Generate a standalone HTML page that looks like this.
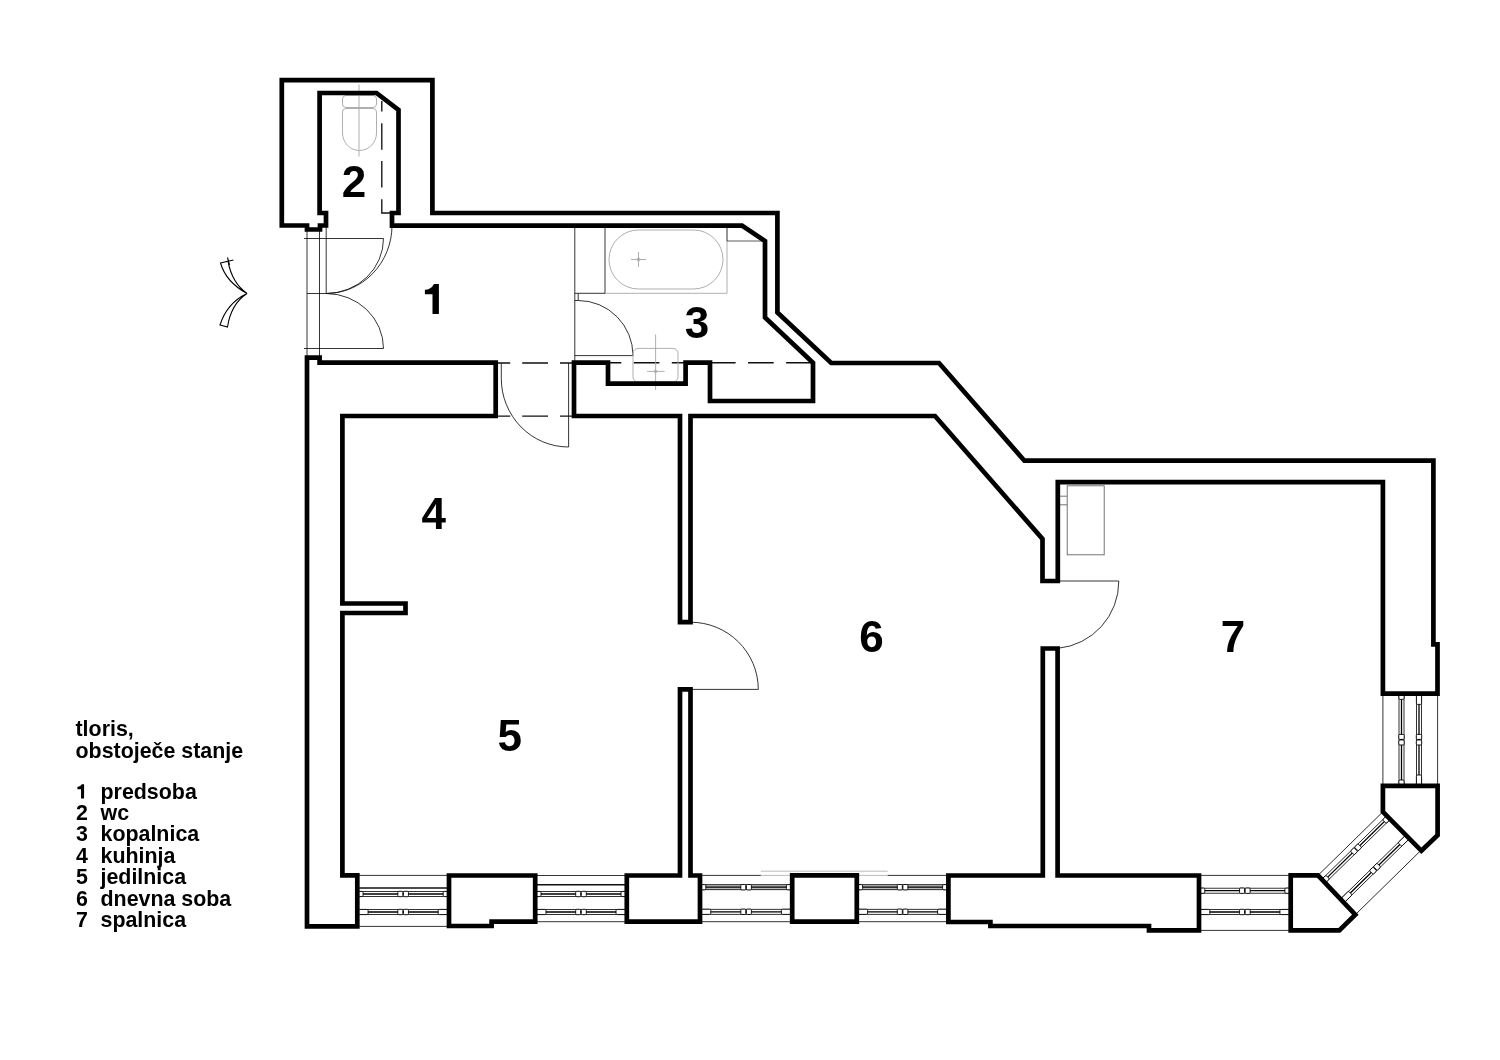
<!DOCTYPE html>
<html><head><meta charset="utf-8">
<style>
html,body{margin:0;padding:0;background:#fff;}
svg{display:block;will-change:transform;}
.w{fill:none;stroke:#000;stroke-width:4.7;stroke-linejoin:miter;stroke-miterlimit:4;}
.tn{fill:none;stroke:#111;stroke-width:0.85;}
.tk{fill:none;stroke:#111;stroke-width:1.35;}
.fx{fill:none;stroke:#a6a6a6;stroke-width:0.9;}
.blk{fill:#fff;stroke:#000;stroke-width:0.9;}
.lab{font-family:"Liberation Sans",sans-serif;font-weight:bold;font-size:44px;text-anchor:middle;fill:#000;}
.leg{font-family:"Liberation Sans",sans-serif;font-weight:bold;font-size:21.4px;fill:#000;}
</style></head>
<body>
<svg width="1500" height="1060" viewBox="0 0 1500 1060">
<rect width="1500" height="1060" fill="#fff"/>
<g transform="translate(357.30,875.40) matrix(1.00000,0.00000,-0.00000,1.00000,0,0)">
<line x1="0" y1="0" x2="91.70" y2="0" class="tn"/>
<line x1="0" y1="51.00" x2="91.70" y2="51.00" class="tn"/>
<line x1="0" y1="12.60" x2="91.70" y2="12.60" class="tk"/>
<rect x="0" y="16.10" width="91.70" height="5" fill="#fff" stroke="#000" stroke-width="0.8"/>
<line x1="0" y1="18.60" x2="91.70" y2="18.60" stroke="#000" stroke-width="1.3"/>
<rect x="0.3" y="16.00" width="5.50" height="5.2" rx="1.2" class="blk"/>
<rect x="85.90" y="16.00" width="5.50" height="5.2" rx="1.2" class="blk"/>
<rect x="40.55" y="15.90" width="5" height="5.4" rx="1" class="blk"/>
<rect x="46.15" y="15.90" width="5" height="5.4" rx="1" class="blk"/>
<rect x="0" y="34.10" width="91.70" height="5" fill="#fff" stroke="#000" stroke-width="0.8"/>
<line x1="0" y1="36.60" x2="91.70" y2="36.60" stroke="#000" stroke-width="1.3"/>
<rect x="0.3" y="34.00" width="10.50" height="5.2" rx="1.2" class="blk"/>
<rect x="80.90" y="34.00" width="10.50" height="5.2" rx="1.2" class="blk"/>
<rect x="40.55" y="33.90" width="5" height="5.4" rx="1" class="blk"/>
<rect x="46.15" y="33.90" width="5" height="5.4" rx="1" class="blk"/>
</g><g transform="translate(535.20,875.50) matrix(1.00000,0.00000,-0.00000,1.00000,0,0)">
<line x1="0" y1="0" x2="91.60" y2="0" class="tn"/>
<line x1="0" y1="46.20" x2="91.60" y2="46.20" class="tn"/>
<line x1="0" y1="9.20" x2="91.60" y2="9.20" class="tk"/>
<rect x="0" y="16.00" width="91.60" height="5" fill="#fff" stroke="#000" stroke-width="0.8"/>
<line x1="0" y1="18.50" x2="91.60" y2="18.50" stroke="#000" stroke-width="1.3"/>
<rect x="0.3" y="15.90" width="5.50" height="5.2" rx="1.2" class="blk"/>
<rect x="85.80" y="15.90" width="5.50" height="5.2" rx="1.2" class="blk"/>
<rect x="40.50" y="15.80" width="5" height="5.4" rx="1" class="blk"/>
<rect x="46.10" y="15.80" width="5" height="5.4" rx="1" class="blk"/>
<rect x="0" y="34.00" width="91.60" height="5" fill="#fff" stroke="#000" stroke-width="0.8"/>
<line x1="0" y1="36.50" x2="91.60" y2="36.50" stroke="#000" stroke-width="1.3"/>
<rect x="0.3" y="33.90" width="10.50" height="5.2" rx="1.2" class="blk"/>
<rect x="80.80" y="33.90" width="10.50" height="5.2" rx="1.2" class="blk"/>
<rect x="40.50" y="33.80" width="5" height="5.4" rx="1" class="blk"/>
<rect x="46.10" y="33.80" width="5" height="5.4" rx="1" class="blk"/>
</g><g transform="translate(700.00,875.40) matrix(1.00000,0.00000,-0.00000,1.00000,0,0)">
<line x1="0" y1="46.30" x2="92.20" y2="46.30" class="tn"/>
<rect x="0" y="9.30" width="92.20" height="5" fill="#b8b8b8" stroke="#000" stroke-width="0.8"/>
<line x1="0" y1="11.80" x2="92.20" y2="11.80" stroke="#000" stroke-width="1.3"/>
<rect x="0.3" y="9.20" width="5.50" height="5.2" rx="1.2" class="blk"/>
<rect x="86.40" y="9.20" width="5.50" height="5.2" rx="1.2" class="blk"/>
<rect x="40.80" y="9.10" width="5" height="5.4" rx="1" class="blk"/>
<rect x="46.40" y="9.10" width="5" height="5.4" rx="1" class="blk"/>
<rect x="0" y="33.90" width="92.20" height="5" fill="#fff" stroke="#000" stroke-width="0.8"/>
<line x1="0" y1="36.40" x2="92.20" y2="36.40" stroke="#000" stroke-width="1.3"/>
<rect x="0.3" y="33.80" width="10.50" height="5.2" rx="1.2" class="blk"/>
<rect x="81.40" y="33.80" width="10.50" height="5.2" rx="1.2" class="blk"/>
<rect x="40.80" y="33.70" width="5" height="5.4" rx="1" class="blk"/>
<rect x="46.40" y="33.70" width="5" height="5.4" rx="1" class="blk"/>
</g><g transform="translate(856.80,875.40) matrix(1.00000,0.00000,-0.00000,1.00000,0,0)">
<line x1="0" y1="46.30" x2="91.60" y2="46.30" class="tn"/>
<rect x="0" y="9.30" width="91.60" height="5" fill="#b8b8b8" stroke="#000" stroke-width="0.8"/>
<line x1="0" y1="11.80" x2="91.60" y2="11.80" stroke="#000" stroke-width="1.3"/>
<rect x="0.3" y="9.20" width="5.50" height="5.2" rx="1.2" class="blk"/>
<rect x="85.80" y="9.20" width="5.50" height="5.2" rx="1.2" class="blk"/>
<rect x="40.50" y="9.10" width="5" height="5.4" rx="1" class="blk"/>
<rect x="46.10" y="9.10" width="5" height="5.4" rx="1" class="blk"/>
<rect x="0" y="33.90" width="91.60" height="5" fill="#fff" stroke="#000" stroke-width="0.8"/>
<line x1="0" y1="36.40" x2="91.60" y2="36.40" stroke="#000" stroke-width="1.3"/>
<rect x="0.3" y="33.80" width="10.50" height="5.2" rx="1.2" class="blk"/>
<rect x="80.80" y="33.80" width="10.50" height="5.2" rx="1.2" class="blk"/>
<rect x="40.50" y="33.70" width="5" height="5.4" rx="1" class="blk"/>
<rect x="46.10" y="33.70" width="5" height="5.4" rx="1" class="blk"/>
</g><g transform="translate(1199.00,875.40) matrix(1.00000,0.00000,-0.00000,1.00000,0,0)">
<line x1="0" y1="0" x2="91.70" y2="0" class="tn"/>
<line x1="0" y1="55.00" x2="91.70" y2="55.00" class="tn"/>
<rect x="0" y="12.80" width="91.70" height="5" fill="#fff" stroke="#000" stroke-width="0.8"/>
<line x1="0" y1="15.30" x2="91.70" y2="15.30" stroke="#000" stroke-width="1.3"/>
<rect x="0.3" y="12.70" width="5.50" height="5.2" rx="1.2" class="blk"/>
<rect x="85.90" y="12.70" width="5.50" height="5.2" rx="1.2" class="blk"/>
<rect x="40.55" y="12.60" width="5" height="5.4" rx="1" class="blk"/>
<rect x="46.15" y="12.60" width="5" height="5.4" rx="1" class="blk"/>
<rect x="0" y="34.10" width="91.70" height="5" fill="#fff" stroke="#000" stroke-width="0.8"/>
<line x1="0" y1="36.60" x2="91.70" y2="36.60" stroke="#000" stroke-width="1.3"/>
<rect x="0.3" y="34.00" width="10.50" height="5.2" rx="1.2" class="blk"/>
<rect x="80.90" y="34.00" width="10.50" height="5.2" rx="1.2" class="blk"/>
<rect x="40.55" y="33.90" width="5" height="5.4" rx="1" class="blk"/>
<rect x="46.15" y="33.90" width="5" height="5.4" rx="1" class="blk"/>
</g><g transform="translate(1382.90,693.60) matrix(0.00000,1.00000,1.00000,-0.00000,0,0)">
<line x1="0" y1="0" x2="92.20" y2="0" class="tn"/>
<line x1="0" y1="54.70" x2="92.20" y2="54.70" class="tn"/>
<rect x="0" y="16.10" width="92.20" height="5" fill="#fff" stroke="#000" stroke-width="0.8"/>
<line x1="0" y1="18.60" x2="92.20" y2="18.60" stroke="#000" stroke-width="1.3"/>
<rect x="0.3" y="16.00" width="5.50" height="5.2" rx="1.2" class="blk"/>
<rect x="86.40" y="16.00" width="5.50" height="5.2" rx="1.2" class="blk"/>
<rect x="40.80" y="15.90" width="5" height="5.4" rx="1" class="blk"/>
<rect x="46.40" y="15.90" width="5" height="5.4" rx="1" class="blk"/>
<rect x="0" y="33.60" width="92.20" height="5" fill="#fff" stroke="#000" stroke-width="0.8"/>
<line x1="0" y1="36.10" x2="92.20" y2="36.10" stroke="#000" stroke-width="1.3"/>
<rect x="0.3" y="33.50" width="10.50" height="5.2" rx="1.2" class="blk"/>
<rect x="81.40" y="33.50" width="10.50" height="5.2" rx="1.2" class="blk"/>
<rect x="40.80" y="33.40" width="5" height="5.4" rx="1" class="blk"/>
<rect x="46.40" y="33.40" width="5" height="5.4" rx="1" class="blk"/>
</g><g transform="translate(1318.00,875.40) matrix(0.71422,-0.69992,0.69992,0.71422,0,0)">
<line x1="0" y1="0" x2="90.87" y2="0" class="tn"/>
<line x1="0" y1="54.20" x2="90.87" y2="54.20" class="tn"/>
<rect x="0" y="5.50" width="90.87" height="5" fill="#fff" stroke="#000" stroke-width="0.8"/>
<line x1="0" y1="8.00" x2="90.87" y2="8.00" stroke="#000" stroke-width="1.3"/>
<rect x="0.3" y="5.40" width="5.50" height="5.2" rx="1.2" class="blk"/>
<rect x="85.07" y="5.40" width="5.50" height="5.2" rx="1.2" class="blk"/>
<rect x="40.13" y="5.30" width="5" height="5.4" rx="1" class="blk"/>
<rect x="45.73" y="5.30" width="5" height="5.4" rx="1" class="blk"/>
<rect x="0" y="32.70" width="90.87" height="5" fill="#fff" stroke="#000" stroke-width="0.8"/>
<line x1="0" y1="35.20" x2="90.87" y2="35.20" stroke="#000" stroke-width="1.3"/>
<rect x="0.3" y="32.60" width="10.50" height="5.2" rx="1.2" class="blk"/>
<rect x="80.07" y="32.60" width="10.50" height="5.2" rx="1.2" class="blk"/>
<rect x="40.13" y="32.50" width="5" height="5.4" rx="1" class="blk"/>
<rect x="45.73" y="32.50" width="5" height="5.4" rx="1" class="blk"/>
</g>
<path d="M307,229.5 V357.6 M319.5,229.5 V357.6 M326.2,225.5 V293.5 M304,238.5 H383.5 M307,293.5 H326.2 M304,348.5 H383.5" class="tn"/>
<path d="M383.5,238.5 A57.5,55 0 0 1 326.2,293.5 M383.5,348.5 A57.5,55 0 0 0 326.2,293.5 M392,225.5 A66,68 0 0 1 326.2,293.5" class="tn"/>
<path d="M392,213 H381.8 V199.3 M381.8,187.4 V161 M381.8,149.7 V123.3 M381.8,111.4 V101" class="tk"/>
<path d="M574.8,227.5 V362.7 M574.8,293.3 H605 M605,227.5 V293.3 M574.8,355.6 H633 M578.2,293.3 V300.5 M574.8,300.5 H578.2" class="tn"/>
<path d="M578.2,300.5 A54.8,55.1 0 0 1 633,355.6" class="tn"/>
<path d="M608,362.7 H621.3 M633.7,362.7 H659.4 M671.8,362.7 H685.6 M710,362.7 H735.6 M748,362.7 H773.7 M786.1,362.7 H811.8" class="tk"/>
<path d="M495.7,363 H510.2 M522.2,363 H548 M560,363 H574 M495.7,416.1 H510.2 M522.2,416.1 H548 M560,416.1 H574" class="tk"/>
<path d="M501.3,363 V378.5 A67.3,68.5 0 0 0 568.6,447 V363" class="tn"/>
<path d="M690.5,622.2 A67.8,67.2 0 0 1 758.3,689.4 H690.5" class="tn"/>
<path d="M1057.8,581 H1118.8 A67.3,67.3 0 0 1 1058,648.3" class="tn"/>
<path d="M760.8,871.2 H887.7 M760.8,875.4 H792 M857,875.4 H887.7" stroke="#aaa" stroke-width="0.8" fill="none"/>
<path d="M700,875.4 H760.8 M887.7,875.4 H948.4" class="tn"/>
<rect x="342.5" y="95.5" width="34" height="12" rx="3.5" class="fx"/>
<path d="M342.5,112 Q342.5,108.5 346,108.5 H373 Q376.5,108.5 376.5,112 V133 A17,17.5 0 0 1 342.5,133 Z" class="fx"/>
<path d="M359,84.5 V156.5" class="fx"/>
<path d="M605,293.3 H727 V227.5" class="fx"/>
<rect x="609" y="230" width="114" height="59" rx="29.5" class="fx"/>
<path d="M631,259.5 H646 M638.5,252 V267" class="fx"/><circle cx="638.5" cy="259.5" r="1.5" class="fx"/>
<path d="M727,227.5 V241 H765" stroke="#333" stroke-width="0.8" fill="none"/>
<rect x="633" y="348.4" width="45" height="33.6" rx="5" class="fx"/>
<path d="M655.6,334.4 V390 M647,371.4 H664.5" class="fx"/><circle cx="655.6" cy="371.4" r="1.3" class="fx"/>
<rect x="1067.2" y="485.8" width="37" height="69" stroke="#666" stroke-width="0.9" fill="none"/>
<path d="M1060,496.2 H1067.2 M1060,504.8 H1067.2" stroke="#666" stroke-width="0.9" fill="none"/>
<path d="M398.5,213.0 L392.0,213.0 L392.0,225.6 L742.0,225.6 L765.0,241.0 L765.0,317.5 L813.0,362.7 L813.0,401.0 L710.0,401.0 L710.0,362.7 L685.6,362.7 L685.6,383.6 L608.0,383.6 L608.0,362.7 L574.0,362.7 L574.0,416.0 L680.0,416.0 L680.0,622.2 L690.5,622.2 L690.5,416.0 L935.0,416.0 L1042.5,539.0 L1042.5,581.0 L1057.8,581.0 L1057.8,482.2 L1382.9,482.2 L1382.9,693.6 L1437.5,693.6 L1437.5,644.3 L1433.4,644.3 L1433.4,460.7 L1024.4,460.7 L939.0,363.0 L831.2,363.0 L777.4,312.5 L777.4,213.0 L432.4,213.0 L432.4,80.2 L281.8,80.2 L281.8,225.5 L307.0,225.5 L307.0,229.5 L320.0,229.5 L320.0,225.5 L326.0,225.5 L326.0,213.0 L319.6,213.0 L319.6,93.0 L376.5,93.0 L398.5,110.0 Z" class="w"/>
<path d="M307.0,357.6 L319.6,357.6 L319.6,362.7 L495.7,362.7 L495.7,416.0 L342.4,416.0 L342.4,603.5 L405.5,603.5 L405.5,613.0 L342.4,613.0 L342.4,875.4 L357.3,875.4 L357.3,926.4 L307.0,926.4 Z" class="w"/>
<path d="M449.0,875.5 L535.2,875.5 L535.2,921.7 L491.6,921.7 L491.6,926.0 L449.0,926.0 Z" class="w"/>
<path d="M626.8,875.5 L680.0,875.5 L680.0,689.4 L690.5,689.4 L690.5,875.5 L700.0,875.5 L700.0,921.7 L626.8,921.7 Z" class="w"/>
<path d="M792.2,875.4 L856.8,875.4 L856.8,921.7 L792.2,921.7 Z" class="w"/>
<path d="M948.4,875.5 L1042.8,875.5 L1042.8,648.5 L1057.6,648.5 L1057.6,875.5 L1199.0,875.5 L1199.0,930.3 L1149.0,930.3 L1149.0,926.0 L990.4,926.0 L990.4,922.0 L948.4,922.0 Z" class="w"/>
<path d="M1382.9,785.8 L1437.6,785.8 L1437.6,835.2 L1421.4,850.8 L1382.9,811.8 Z" class="w"/>
<path d="M1290.7,875.4 L1318.0,875.4 L1355.3,914.7 L1339.3,930.4 L1290.7,930.4 Z" class="w"/>
<g stroke="#000" stroke-width="1.1" fill="none">
<path d="M220.5,263 L228,261.2 Q232,283 247,293.5 Q226,282 220.5,263 Z"/>
<path d="M220,325 L227.5,327 Q231,304 247,293.5 Q227,303 220,325 Z"/>
<path d="M227.5,257.5 L229.5,265 M228,261.2 L233.5,260"/>
</g>
<path d="M14,0 V30 H7.6 V10.4 H0 V5.9 Q6.1,5.7 9.1,0 Z" transform="translate(424.9,283.9)"/>
<text x="354" y="196.8" class="lab">2</text>
<text x="697" y="338.2" class="lab">3</text>
<text x="433.7" y="528.7" class="lab">4</text>
<text x="509.7" y="750.8" class="lab">5</text>
<text x="871.5" y="652" class="lab">6</text>
<text x="1233" y="651.7" class="lab">7</text>
<text x="75.5" y="736.0" class="leg">tloris,</text>
<text x="75.5" y="757.9" class="leg">obstoječe stanje</text>
<path d="M14,0 V30 H7.6 V10.4 H0 V5.9 Q6.1,5.7 9.1,0 Z" transform="translate(77.4,784.3) scale(0.477)"/><text x="100.5" y="798.6" class="leg">predsoba</text>
<text x="76" y="820.0" class="leg">2</text><text x="100.5" y="820.0" class="leg">wc</text>
<text x="76" y="841.4" class="leg">3</text><text x="100.5" y="841.4" class="leg">kopalnica</text>
<text x="76" y="862.8" class="leg">4</text><text x="100.5" y="862.8" class="leg">kuhinja</text>
<text x="76" y="884.2" class="leg">5</text><text x="100.5" y="884.2" class="leg">jedilnica</text>
<text x="76" y="905.6" class="leg">6</text><text x="100.5" y="905.6" class="leg">dnevna soba</text>
<text x="76" y="927.0" class="leg">7</text><text x="100.5" y="927.0" class="leg">spalnica</text>
</svg>
</body></html>
